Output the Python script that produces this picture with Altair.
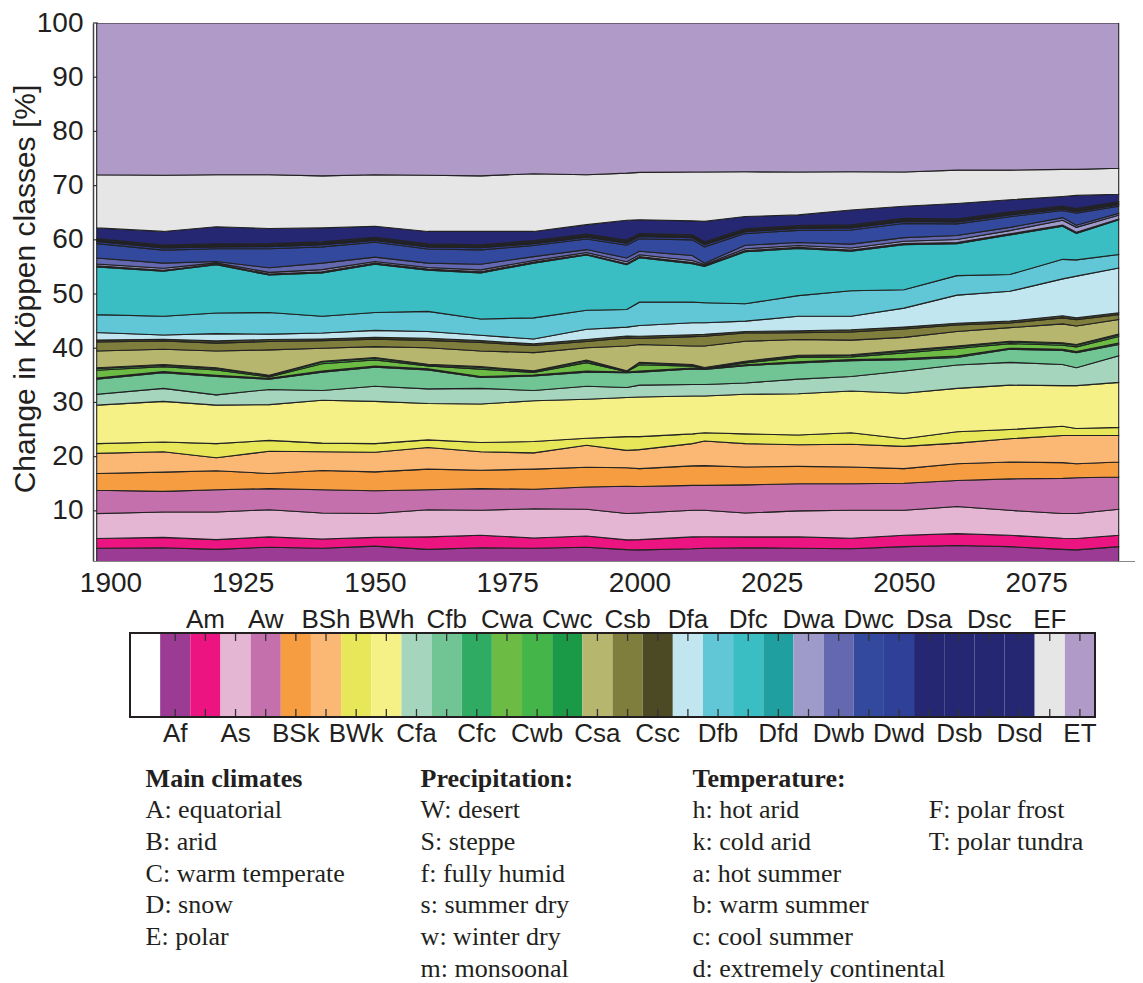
import altair as alt
import pandas as pd

# ---------------- data (shares in %) ----------------
years = [1897.4, 1910, 1920, 1930, 1940, 1950, 1960, 1970, 1980, 1990, 1997.6,
         2000, 2010, 2012.3, 2020, 2030, 2040, 2050, 2060, 2070, 2080, 2082.6, 2090.6]

Af  = [3.1, 3.2, 2.9, 3.3, 3.1, 3.5, 2.9, 3.2, 3.1, 3.3, 2.85, 2.8, 3.0, 3.1, 3.2, 3.1, 3.0, 3.4, 3.6, 3.4, 2.9, 2.8, 3.4]
Am  = [1.8, 1.9, 1.8, 1.9, 1.7, 1.6, 2.3, 2.3, 1.9, 2.05, 1.8, 1.9, 2.2, 2.12, 2.0, 2.1, 1.95, 2.1, 2.2, 2.1, 2.05, 2.1, 2.1]
As  = [4.6, 4.7, 5.1, 5.0, 4.8, 4.4, 5.0, 4.6, 5.4, 4.95, 4.85, 4.9, 4.9, 4.88, 4.4, 4.8, 5.15, 4.6, 5.0, 4.6, 4.55, 4.6, 4.8]
Aw  = [4.3, 3.8, 4.1, 3.9, 4.3, 4.2, 3.7, 4.0, 3.6, 4.1, 5.05, 4.9, 4.6, 4.6, 5.2, 5.0, 4.9, 5.0, 4.8, 5.8, 6.5, 6.6, 5.95]
BSk = [3.1, 3.55, 3.5, 2.8, 3.55, 3.5, 3.8, 3.4, 3.7, 3.65, 3.4, 3.3, 3.6, 3.65, 3.3, 3.2, 3.1, 2.7, 3.1, 3.1, 2.9, 2.6, 2.75]
BSh = [3.7, 3.75, 2.4, 4.1, 3.45, 3.6, 4.0, 3.4, 3.0, 4.05, 3.2, 3.5, 4.1, 4.55, 4.3, 4.0, 4.2, 4.1, 3.8, 4.3, 5.0, 5.2, 4.9]
BWk = [1.8, 1.8, 2.6, 2.0, 1.6, 1.6, 1.4, 1.7, 2.1, 1.3, 2.55, 2.4, 1.8, 1.5, 1.8, 1.8, 2.1, 1.4, 2.1, 1.7, 1.7, 1.3, 1.5]
BWh = [7.1, 7.5, 7.1, 6.6, 7.9, 7.8, 6.7, 7.1, 7.5, 7.2, 7.2, 7.3, 7.0, 6.8, 7.3, 7.6, 7.7, 8.4, 8.0, 8.2, 7.5, 7.9, 8.3]
Cfa = [2.0, 2.4, 1.9, 2.8, 1.8, 2.8, 2.7, 2.9, 1.9, 2.4, 1.87, 2.2, 2.1, 2.1, 2.1, 2.7, 2.7, 4.1, 4.3, 4.2, 3.9, 3.3, 4.9]
Cfb = [2.8, 2.9, 3.4, 1.9, 3.4, 3.5, 3.5, 2.0, 2.7, 2.6, 2.73, 2.4, 2.9, 2.8, 3.2, 3.0, 2.9, 2.1, 1.4, 2.4, 2.6, 2.8, 2.1]
Cfc = [0.2, 0.2, 0.2, 0.15, 0.2, 0.2, 0.2, 0.2, 0.15, 0.2, 0.1, 0.2, 0.15, 0.1, 0.15, 0.2, 0.2, 0.2, 0.25, 0.2, 0.2, 0.2, 0.25]
Cwa = [1.45, 0.9, 1.0, 0.25, 1.35, 1.15, 0.55, 1.35, 0.48, 1.55, 0.08, 1.15, 0.35, 0.09, 0.35, 0.8, 0.5, 1.05, 1.4, 0.85, 0.75, 0.85, 1.2]
Cwb = [0.3, 0.25, 0.25, 0.2, 0.3, 0.3, 0.2, 0.3, 0.2, 0.3, 0.1, 0.3, 0.2, 0.1, 0.2, 0.25, 0.25, 0.3, 0.3, 0.3, 0.3, 0.3, 0.3]
Cwc = [0.15, 0.15, 0.15, 0.1, 0.15, 0.15, 0.1, 0.15, 0.1, 0.15, 0.05, 0.15, 0.1, 0.05, 0.1, 0.15, 0.15, 0.15, 0.15, 0.15, 0.15, 0.15, 0.15]
Csa = [3.1, 2.8, 3.1, 4.7, 2.4, 2.0, 3.05, 2.9, 3.37, 2.3, 4.57, 3.3, 3.4, 3.96, 3.7, 2.9, 2.7, 2.4, 2.7, 2.5, 3.5, 3.4, 2.7]
Csb = [1.65, 1.55, 1.45, 1.55, 1.4, 1.35, 1.35, 1.55, 1.3, 1.15, 1.51, 1.1, 1.75, 1.81, 1.5, 1.25, 1.5, 1.55, 1.2, 0.85, 1.1, 1.15, 0.9]
Csc = [0.35, 0.3, 0.4, 0.35, 0.3, 0.35, 0.4, 0.35, 0.3, 0.35, 0.35, 0.4, 0.35, 0.35, 0.3, 0.35, 0.4, 0.35, 0.3, 0.35, 0.4, 0.35, 0.35]
Dfa = [1.4, 0.8, 1.35, 1.0, 1.1, 1.3, 1.25, 1.0, 0.9, 1.9, 1.64, 2.0, 2.2, 2.14, 1.9, 2.7, 2.5, 3.5, 5.2, 5.5, 6.8, 7.7, 8.25]
Dfb = [3.3, 3.45, 3.8, 4.0, 3.1, 3.3, 3.7, 3.0, 3.9, 3.5, 3.26, 4.3, 3.8, 3.7, 3.2, 3.8, 4.7, 3.4, 3.6, 3.1, 3.6, 3.0, 2.5]
Dfc = [8.8, 8.3, 8.9, 6.9, 8.0, 8.9, 7.6, 8.5, 10.1, 10.2, 8.24, 8.2, 7.1, 6.7, 9.6, 8.7, 7.3, 8.3, 5.9, 7.3, 6.1, 4.9, 6.4]
Dfd = [0.2, 0.2, 0.15, 0.2, 0.2, 0.2, 0.2, 0.2, 0.2, 0.15, 0.2, 0.2, 0.2, 0.15, 0.2, 0.2, 0.2, 0.2, 0.2, 0.2, 0.2, 0.2, 0.15]
Dwa = [0.35, 0.35, 0.2, 0.3, 0.4, 0.3, 0.3, 0.35, 0.3, 0.3, 0.35, 0.35, 0.4, 0.2, 0.35, 0.35, 0.4, 0.45, 0.55, 0.6, 0.9, 0.9, 0.7]
Dwb = [1.1, 0.95, 0.25, 0.85, 1.2, 0.8, 0.8, 1.05, 0.7, 0.55, 0.7, 0.65, 0.9, 0.25, 0.65, 0.55, 0.7, 0.65, 0.75, 0.6, 0.5, 0.4, 0.35]
Dwc = [2.65, 2.4, 2.35, 3.5, 3.0, 2.75, 2.6, 2.65, 2.05, 1.95, 2.35, 2.3, 2.9, 3.0, 2.15, 2.25, 2.6, 2.6, 2.15, 1.95, 1.3, 2.2, 1.3]
Dwd = [0.4, 0.4, 0.35, 0.4, 0.4, 0.35, 0.4, 0.4, 0.35, 0.35, 0.4, 0.4, 0.4, 0.4, 0.35, 0.35, 0.4, 0.4, 0.35, 0.35, 0.3, 0.3, 0.3]
Dsa = [0.1, 0.1, 0.1, 0.1, 0.1, 0.1, 0.1, 0.1, 0.1, 0.1, 0.1, 0.1, 0.1, 0.1, 0.1, 0.1, 0.1, 0.1, 0.1, 0.1, 0.1, 0.1, 0.1]
Dsb = [0.2, 0.2, 0.2, 0.2, 0.2, 0.2, 0.2, 0.2, 0.2, 0.2, 0.2, 0.2, 0.2, 0.2, 0.2, 0.2, 0.2, 0.2, 0.2, 0.2, 0.2, 0.2, 0.2]
Dsc = [0.25, 0.25, 0.25, 0.25, 0.25, 0.25, 0.25, 0.25, 0.25, 0.25, 0.25, 0.25, 0.25, 0.25, 0.25, 0.25, 0.25, 0.25, 0.25, 0.25, 0.25, 0.25, 0.25]
Dsd = [1.95, 2.5, 3.15, 2.8, 2.55, 2.05, 2.3, 2.45, 1.7, 1.75, 3.65, 2.55, 2.55, 3.75, 2.25, 1.95, 2.75, 2.25, 2.85, 2.25, 1.75, 2.45, 1.35]
EF  = [9.8, 10.35, 9.6, 9.9, 9.6, 9.5, 10.35, 10.25, 10.65, 9.2, 8.7, 8.75, 9.0, 9.1, 8.25, 7.9, 7.05, 6.3, 6.15, 5.45, 5.0, 4.8, 4.8]
ET  = [28.0, 28.1, 28.0, 28.0, 28.2, 28.0, 28.1, 28.2, 27.8, 28.0, 27.7, 27.55, 27.5, 27.5, 27.45, 27.5, 27.45, 27.5, 27.15, 27.15, 27.0, 27.0, 26.8]

classes = ["Af", "Am", "As", "Aw", "BSk", "BSh", "BWk", "BWh", "Cfa", "Cfb", "Cfc",
           "Cwa", "Cwb", "Cwc", "Csa", "Csb", "Csc", "Dfa", "Dfb", "Dfc", "Dfd",
           "Dwa", "Dwb", "Dwc", "Dwd", "Dsa", "Dsb", "Dsc", "Dsd", "EF", "ET"]
series = [Af, Am, As, Aw, BSk, BSh, BWk, BWh, Cfa, Cfb, Cfc, Cwa, Cwb, Cwc, Csa, Csb,
          Csc, Dfa, Dfb, Dfc, Dfd, Dwa, Dwb, Dwc, Dwd, Dsa, Dsb, Dsc, Dsd, EF, ET]
colors = ["#9b3b93", "#ec1481", "#e5b5d4", "#c470ac", "#f79d41", "#fbb874", "#e8e75a",
          "#f6f186", "#a5d5bd", "#71c594", "#30ab63", "#6cbb44", "#44b549", "#1a9a47",
          "#b6b66f", "#7f7e3d", "#4b4a24", "#c1e6ef", "#61c7d7", "#3abec3", "#1f9f9f",
          "#9e9bcb", "#6368b0", "#32499d", "#2e4097", "#252772", "#252772", "#252772",
          "#252772", "#e6e6e7", "#b09bc8"]
for s in series:
    assert len(s) == len(years)

x_ticks = [1900, 1925, 1950, 1975, 2000, 2025, 2050, 2075]
y_ticks = [10, 20, 30, 40, 50, 60, 70, 80, 90, 100]

legend_cols = [
    ("Main climates", ["A: equatorial", "B: arid", "C: warm temperate", "D: snow", "E: polar"]),
    ("Precipitation:", ["W: desert", "S: steppe", "f: fully humid", "s: summer dry",
                        "w: winter dry", "m: monsoonal"]),
    ("Temperature:", ["h: hot arid", "k: cold arid", "a: hot summer", "b: warm summer",
                      "c: cool summer", "d: extremely continental"]),
    ("", ["F: polar frost", "T: polar tundra"]),
]

# ---------------- layout ----------------
W, H = 1042, 538
TOP = 15          # plot top sits at page y = 8 + TOP
INK = "#231f20"
SANS = "Liberation Sans"
SERIF = "Liberation Serif"


def py(page_y):
    """page y -> y relative to the plot origin"""
    return page_y - 8 - TOP


rows = []
for i, (c, vals) in enumerate(zip(classes, series)):
    for yr, v in zip(years, vals):
        rows.append({"year": yr, "cls": c, "idx": i, "share": v})
df = pd.DataFrame(rows)

yscale = alt.Scale(domain=[0.75, 100], nice=False, zero=False)
yaxis = alt.Axis(values=y_ticks, title=None, labelFont=SANS, labelFontSize=28,
                 labelColor=INK, ticks=False, tickSize=0, labelPadding=10,
                 domainColor="#444444", domainWidth=1.5, grid=False)

areas = alt.Chart(df).mark_area(
    stroke="#222222", strokeWidth=1.1, clip=True, interpolate="linear"
).encode(
    x=alt.X("year:Q", scale=alt.Scale(domain=[1896.7, 2093.68], nice=False, zero=False),
            axis=alt.Axis(values=x_ticks, title=None, format="d", labelFont=SANS,
                          labelFontSize=28, labelColor=INK, ticks=False, tickSize=0,
                          labelPadding=8.5, domainColor="#888888", domainWidth=1,
                          grid=False)),
    y=alt.Y("share:Q", stack="zero", scale=yscale, axis=yaxis),
    color=alt.Color("cls:N", scale=alt.Scale(domain=classes, range=colors), legend=None),
    order=alt.Order("idx:Q", sort="ascending"),
)

tick_df = pd.DataFrame({"v": y_ticks})
yticks_in = alt.Chart(tick_df).mark_rule(color="#333333", strokeWidth=1.2).encode(
    x=alt.value(0), x2=alt.value(5),
    y=alt.Y("v:Q", scale=yscale, axis=yaxis),
)

one = pd.DataFrame({"a": [0]})
ytitle = alt.Chart(one).mark_text(
    angle=270, align="center", baseline="alphabetic", font=SANS, fontSize=30, color=INK
).encode(x=alt.value(-58), y=alt.value(py(289)), text=alt.value("Change in Köppen classes [%]"))

# ---------------- colour bar ----------------
cells = [" "] + classes
hexes = ["#ffffff"] + colors
cb_df = pd.DataFrame({"cell": cells, "hex": hexes})
lab_df = pd.DataFrame({"cell": classes, "pos": ["down" if i % 2 == 0 else "up"
                                                 for i in range(len(classes))]})
cbx = alt.X("cell:N", sort=None, axis=None,
            scale=alt.Scale(type="band", domain=cells, range=[37, 1002],
                            paddingInner=0, paddingOuter=0))
CB_TOP, CB_BOT = py(633), py(717)

cb_rect = alt.Chart(cb_df).mark_rect().encode(
    x=cbx, y=alt.value(CB_TOP), y2=alt.value(CB_BOT),
    fill=alt.Fill("hex:N", scale=None),
)
cb_tick_top = alt.Chart(lab_df).mark_rule(color="#333333", strokeWidth=1.3).encode(
    x=cbx, y=alt.value(CB_TOP), y2=alt.value(CB_TOP + 8))
cb_tick_bot = alt.Chart(lab_df).mark_rule(color="#333333", strokeWidth=1.3).encode(
    x=cbx, y=alt.value(CB_BOT - 8), y2=alt.value(CB_BOT))
cb_border = alt.Chart(one).mark_rect(fillOpacity=0, stroke=INK, strokeWidth=2).encode(
    x=alt.value(37), x2=alt.value(1002), y=alt.value(CB_TOP), y2=alt.value(CB_BOT))
cb_lab_up = alt.Chart(lab_df).transform_filter(alt.datum.pos == "up").mark_text(
    font=SANS, fontSize=26, color=INK, baseline="alphabetic", align="center"
).encode(x=cbx, y=alt.value(py(628)), text="cell:N")
cb_lab_down = alt.Chart(lab_df).transform_filter(alt.datum.pos == "down").mark_text(
    font=SANS, fontSize=26, color=INK, baseline="alphabetic", align="center"
).encode(x=cbx, y=alt.value(py(741.7)), text="cell:N")

# ---------------- text legend ----------------
col_x = [52.6, 327.6, 599.5, 835.7]
row_y0 = py(786.7)
row_step = 31.67
leg_layers = []
for (head, body), cx in zip(legend_cols, col_x):
    if head:
        leg_layers.append(alt.Chart(one).mark_text(
            align="left", baseline="alphabetic", font=SERIF, fontSize=26,
            fontWeight="bold", color=INK
        ).encode(x=alt.value(cx), y=alt.value(row_y0), text=alt.value(head)))
    leg_layers.append(alt.Chart(one).mark_text(
        align="left", baseline="alphabetic", font=SERIF, fontSize=26, color=INK,
        lineBreak="\n", lineHeight=row_step
    ).encode(x=alt.value(cx), y=alt.value(row_y0 + row_step), text=alt.value("\n".join(body))))

chart = alt.layer(
    yticks_in, areas, ytitle, cb_rect, cb_tick_top, cb_tick_bot, cb_border,
    cb_lab_up, cb_lab_down, *leg_layers
).resolve_scale(
    x="independent"
).properties(
    width=W, height=H,
    autosize=alt.AutoSizeParams(type="none"),
    padding={"left": 85, "top": TOP, "right": 0, "bottom": 975 - TOP - H},
).configure_view(strokeWidth=0)

chart.save("out.html", embed_options={"renderer": "svg", "actions": False})
